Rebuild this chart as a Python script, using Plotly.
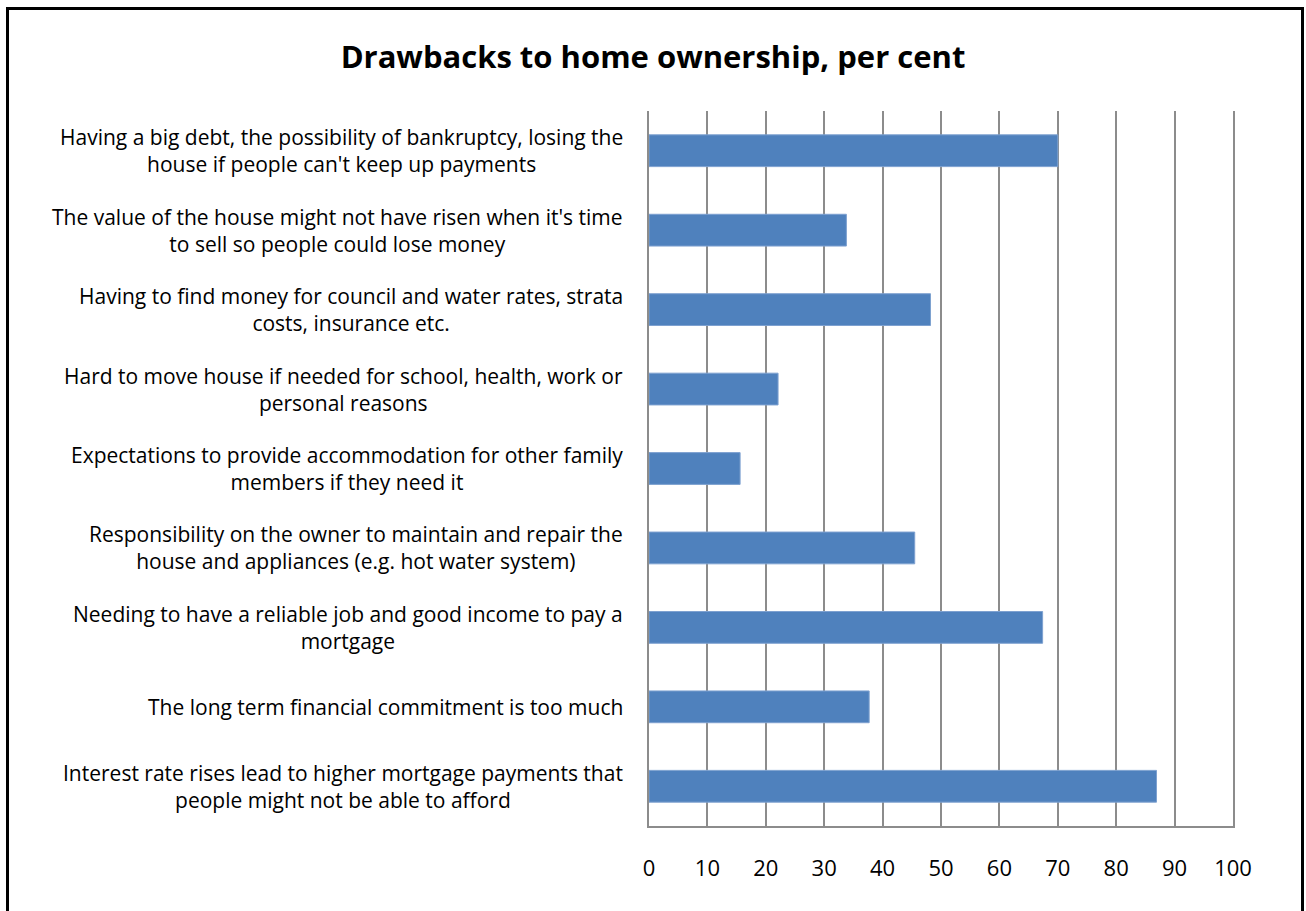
import plotly.graph_objects as go

categories = [
    "Having a big debt, the possibility of bankruptcy, losing the<br>house if people can't keep up payments",
    "The value of the house might not have risen when it's time<br>to sell so people could lose money",
    "Having to find money for council and water rates, strata<br>costs, insurance etc.",
    "Hard to move house if needed for school, health, work or<br>personal reasons",
    "Expectations to provide accommodation for other family<br>members if they need it",
    "Responsibility on the owner to maintain and repair the<br>house and appliances (e.g. hot water system)",
    "Needing to have a reliable job and good income to pay a<br>mortgage",
    "The long term financial commitment is too much",
    "Interest rate rises lead to higher mortgage payments that<br>people might not be able to afford",
]
values = [70.0, 33.8, 48.2, 22.1, 15.6, 45.5, 67.4, 37.7, 86.9]
x_ticks = list(range(0, 101, 10))
title_text = "Drawbacks to home ownership, per cent"

FONT = "Open Sans"
GRID = "#8C8C8C"

fig = go.Figure()
fig.add_trace(go.Bar(
    x=values, y=categories, orientation="h",
    marker=dict(color="#4F81BD", line=dict(color="#7EA1D0", width=1)),
    hoverinfo="x+y",
))

ann = []
for cat in categories:
    ann.append(dict(
        x=0, xref="paper", y=cat, yref="y",
        text=cat, showarrow=False,
        xanchor="right", yanchor="middle", align="center",
        xshift=-24,
        font=dict(family=FONT, size=21, color="#000000"),
    ))

fig.update_layout(
    width=1306, height=911,
    margin=dict(l=649, r=73, t=111, b=85, pad=0),
    paper_bgcolor="white", plot_bgcolor="white",
    showlegend=False,
    bargap=0.6,
    title=dict(text="<b>" + title_text + "</b>", x=0.5, xref="container", xanchor="center",
               y=1 - 57 / 911, yref="container", yanchor="middle",
               font=dict(family=FONT, size=31, color="#000000")),
    xaxis=dict(range=[0, 100], tickvals=x_ticks, ticktext=[str(v) for v in x_ticks],
               showgrid=True, gridcolor=GRID, gridwidth=2,
               showline=True, linecolor=GRID, linewidth=2,
               ticks="", ticklabelstandoff=22, zeroline=False,
               tickfont=dict(family=FONT, size=22, color="#000000")),
    yaxis=dict(autorange="reversed", showticklabels=False, showgrid=False,
               showline=True, mirror=True, linecolor=GRID, linewidth=2, ticks=""),
    annotations=ann,
    shapes=[dict(type="rect", xref="paper", yref="paper",
                 x0=(7.5 - 649) / 584, x1=(1302.5 - 649) / 584,
                 y0=(826 - 930) / 715, y1=(826 - 8.5) / 715,
                 line=dict(color="black", width=3), fillcolor="rgba(0,0,0,0)",
                 layer="above")],
)

fig.write_html("out.html")
